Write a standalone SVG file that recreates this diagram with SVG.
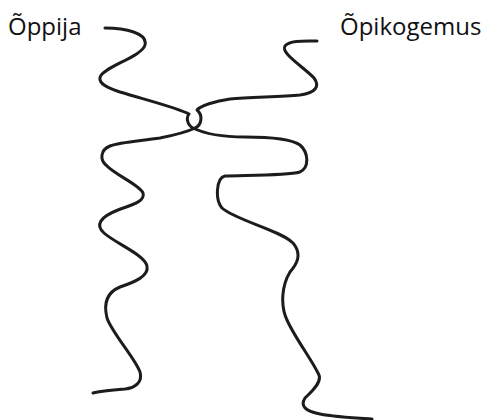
<svg xmlns="http://www.w3.org/2000/svg" width="491" height="420" viewBox="0 0 491 420">
<style>
.lbl{font-family:"Open Sans","Noto Sans",sans-serif;font-size:24px;fill:#111}
.str{fill:none;stroke:#1c1c1c;stroke-width:3;stroke-linecap:round;stroke-linejoin:round}
</style>
<rect width="491" height="420" fill="#fff"/>
<g id="oppija">
<text class="lbl" x="8" y="35">Õppija</text>
</g>
<g id="opikogemus">
<text class="lbl" x="340" y="35">Õpikogemus</text>
</g>
<g id="connectors">
<path id="strand-a" class="str" d="M105,28 C125,28 148,33 145,45 C142,57 100,68 100,78 C99,84 108,88 120,92 C150,101 178,108 189,114 C186,117 187,125 193,128 C205,134 225,137 245,137 C265,137 290,138 300,145 C308,152 310,167 300,172 C285,176 240,175 225,176 C216,178 215,200 222,208 C235,220 280,230 293,243 C303,255 296,265 290,272 C282,285 280,305 287,320 C295,338 312,360 319,375 C322,383 310,393 305,398 C300,406 305,411 320,414 C335,417 355,418 372,419"/>
<path id="strand-b" class="str" d="M317,41 C305,41 290,40 285,46 C280,53 305,68 314,78 C320,86 316,93 300,95 C280,97 250,97 230,99 C215,101 200,106 197,110 C203,115 202,125 195,128 C185,133 175,135 160,138 C140,141 120,142 110,146 C100,150 100,160 106,165 C115,175 140,185 143,193 C146,202 128,206 118,210 C100,217 95,225 104,233 C115,243 145,255 147,266 C149,276 135,282 120,287 C108,292 103,302 107,318 C112,333 135,358 140,372 C143,382 135,388 125,389 C112,390 100,391 93,393"/>
</g>
</svg>
